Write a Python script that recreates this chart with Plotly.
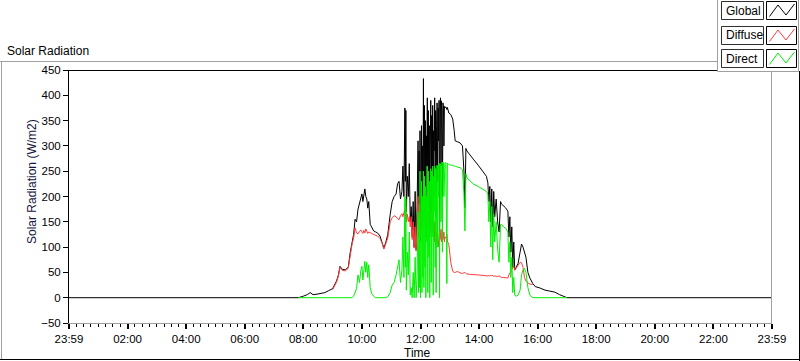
import plotly.graph_objects as go

N = None
# ---- data (minutes after midnight) ----
time_min = [0, 470, 480, 488, 494, 500, 508, 516, 524, 532,
            540, 548, 552, 555, 560, 566, 572, 576, 580, 583,
            586, 589, 592, 595, 598, 600, 602, 604, 606, 608,
            610, 612, 614, 617, 620, 624, 628, 632, 637, 641,
            645, 649, 653, 658, 662, 666, 670, 673, 676, 679,
            682, 684, 686, 688, 689, 690, 691, 693, 695, 697,
            699, 701, 703, 705, 707, 709, 711, 713, 715, 716,
            717, 718, 719, 720, 721, 722, 723, 724, 725, 726,
            727, 728, 729, 730, 731, 732, 733, 734, 735, 736,
            737, 738, 739, 740, 741, 742, 743, 744, 745, 746,
            747, 748, 749, 750, 751, 752, 753, 754, 755, 756,
            757, 758, 759, 760, 761, 762, 763, 764, 765, 766,
            767, 768, 769, 770, 772, 774, 775, 778, 782, 786,
            789, 791, 796, 801, 806, 809, 811, 813, 815, 822,
            828, 838, 848, 855, 858, 860, 862, 864, 866, 868,
            870, 872, 875, 878, 881, 884, 886, 890, 894, 899,
            901, 903, 905, 907, 909, 911, 913, 916, 920, 924,
            927, 930, 933, 936, 940, 944, 950, 955, 965, 975,
            985, 995, 1005, 1012, 1020, 1440]

global_w = [0, 0, 3, 6, 10, 6, 7, 8, 10, 14,
            18, 33, 45, 62, 56, 55, 60, 89, 110, 125,
            155, 150, 175, 185, 195, 205, 190, 210, 215, 200,
            195, 177, 190, 145, 140, 132, 130, 128, 122, 112,
            98, 110, 125, 165, 190, 200, 205, 225, 230, 195,
            210, 260, 200, 375, 230, 370, 170, 240, 200, 265,
            150, 180, 120, 190, 100, 210, 95, 180, 310, 120,
            290, 150, 330, 110, 260, 340, 140, 300, 180, 433,
            160, 380, 200, 350, 120, 320, 260, 395, 150, 370,
            220, 340, 130, 300, 390, 170, 360, 250, 380, 140,
            330, 290, 395, 200, 370, 160, 340, 385, 230, 375,
            310, 390, 120, 380, 395, 260, 389, 370, 200, 385,
            380, 300, 378, 376, 377, 372, 376, 365, 362, 353,
            330, 310, 308, 306, 300, 250, 178, 295, 290, 280,
            274, 262, 250, 240, 227, 190, 220, 150, 215, 140,
            210, 160, 195, 150, 130, 190, 185, 182, 178, 171,
            120, 160, 90, 140, 60, 110, 55, 60, 68, 90,
            106, 100, 92, 80, 50, 39, 28, 22, 19, 15,
            13, 11, 6, 3, 0, 0]

diffuse_w = [N, N, N, N, N, N, N, N, N, N,
             16, 31, 43, 60, 54, 53, 58, 86, 107, 118,
             138, 128, 126, 131, 134, 130, 127, 133, 128, 136,
             131, 127, 130, 129, 127, 125, 124, 122, 117, 109,
             96, 108, 118, 150, 158, 162, 160, 156, 154, 162,
             166, 160, 170, 175, 160, 180, 150, 165, 150, 160,
             140, 160, 115, 150, 98, 140, 92, 150, 200, 130,
             185, 140, 170, 120, 160, 190, 150, 175, 160, 210,
             150, 185, 170, 190, 130, 175, 190, 170, 140, 160,
             180, 150, 120, 165, 150, 160, 140, 170, 130, 140,
             120, 150, 110, 150, 100, 130, 115, 105, 140, 100,
             120, 120, 130, 115, 125, 135, 110, 120, 140, 115,
             125, 130, 110, 120, 118, 125, 112, 105, 70, 52,
             50, 50, 52, 49, 48, 50, 50, 48, 47, 46,
             46, 45, 44, 43, 43, 44, 43, 45, 43, 44,
             42, 43, 42, 42, 43, 41, 40, 40, 40, 39,
             45, 48, 52, 55, 58, 62, 54, 59, 66, 70,
             69, 60, 40, 33, 29, 27, 26, N, N, N,
             N, N, N, N, N, N]

direct_w = [N, 0, 0, 0, 0, 0, 0, 0, 0, 0,
            0, 0, 0, 0, 0, 0, 0, 0, 0, 3,
            12, 18, 45, 30, 55, 62, 35, 60, 72, 50,
            70, 40, 65, 20, 8, 3, 0, 0, 0, 0,
            0, 0, 2, 10, 25, 30, 45, 60, 75, 30,
            55, 120, 40, 200, 60, 195, 15, 90, 45, 130,
            5, 20, 0, 50, 0, 80, 0, 45, 170, 10,
            160, 20, 250, 0, 120, 230, 10, 200, 40, 250,
            20, 240, 60, 220, 0, 200, 110, 260, 10, 250,
            80, 230, 0, 190, 255, 30, 250, 120, 260, 5,
            240, 170, 260, 60, 255, 10, 240, 262, 100, 260,
            200, 265, 0, 265, 262, 150, 265, 268, 90, 268,
            266, 200, 265, 266, 267, 28, 266, 263, 262, 262,
            260, 260, 258, 257, 253, 205, 132, 245, 237, 230,
            225, 220, 215, 210, 205, 150, 190, 100, 180, 75,
            165, 110, 150, 95, 70, 145, 145, 140, 138, 130,
            70, 110, 40, 80, 10, 40, 5, 3, 5, 15,
            45, 55, 58, 50, 20, 5, 0, 0, 0, 0,
            0, 0, 0, 0, 0, N]

assert len(time_min) == len(global_w) == len(diffuse_w) == len(direct_w)

series_names = ["Global", "Diffuse", "Direct"]
series_colors = ["#000000", "#ff3c3c", "#00f000"]

x_tick_vals = [0, 2, 4, 6, 8, 10, 12, 14, 16, 18, 20, 22, 24]
x_tick_text = ["23:59", "02:00", "04:00", "06:00", "08:00", "10:00", "12:00",
               "14:00", "16:00", "18:00", "20:00", "22:00", "23:59"]
y_tick_vals = [-50, 0, 50, 100, 150, 200, 250, 300, 350, 400, 450]

hours = [t / 60.0 for t in time_min]

# ---- geometry (pixels) ----
W, H = 800, 361
L, R, T, B = 69, 772, 70, 323
FONT = "Liberation Sans, Arial, sans-serif"


def px(x):
    return (x - L) / (R - L)


def py(y):
    return (B - y) / (B - T)


fig = go.Figure()
for name, vals, col in zip(series_names, [global_w, diffuse_w, direct_w], series_colors):
    fig.add_trace(go.Scatter(x=hours, y=vals, mode="lines", name=name,
                             line=dict(color=col, width=1), connectgaps=False,
                             hoverinfo="skip", showlegend=False))

shapes = []


def line(x0, y0, x1, y1, color, width=1):
    shapes.append(dict(type="line", xref="paper", yref="paper",
                       x0=px(x0), y0=py(y0), x1=px(x1), y1=py(y1),
                       line=dict(color=color, width=width), layer="above"))


def rect(x0, y0, x1, y1, color, fill="white", width=1):
    shapes.append(dict(type="rect", xref="paper", yref="paper",
                       x0=px(x0), y0=py(y0), x1=px(x1), y1=py(y1),
                       line=dict(color=color, width=width), fillcolor=fill, layer="above"))


# outer frame
line(0, 61.5, 717, 61.5, "#a0a0a0")
line(1.5, 61, 1.5, 360, "#a0a0a0")
line(0, 359.5, 800, 359.5, "#000000")
line(799.5, 71, 799.5, 361, "#000000")
# plot frame top/right
line(L, 70.5, R, 70.5, "#000000")
line(R - 0.5, 70, R - 0.5, B, "#a0a0a0")

# legend
rect(717.5, -1, 798.5, 71.5, "#a0a0a0")
annotations = []
leg_tops = [1.5, 26.5, 49.5]
for name, col, top in zip(series_names, series_colors, leg_tops):
    rect(721.5, top, 763.5, top + 18, "#303030")
    rect(766.5, top, 796.5, top + 18, "#000000")
    path = "M {:.5f},{:.5f} L {:.5f},{:.5f} L {:.5f},{:.5f} L {:.5f},{:.5f}".format(
        px(769.5), py(top + 15), px(778), py(top + 3.5),
        px(786), py(top + 13.5), px(794.5), py(top + 2.5))
    shapes.append(dict(type="path", xref="paper", yref="paper", path=path,
                       line=dict(color=col, width=1), layer="above"))
    annotations.append(dict(xref="paper", yref="paper", x=px(723.5), y=py(top + 9),
                            text=name, showarrow=False, xanchor="left", yanchor="middle",
                            font=dict(family=FONT, size=12, color="#000000")))

annotations.append(dict(xref="paper", yref="paper", x=px(5), y=py(50.5),
                        text="Solar Radiation", showarrow=False, xanchor="left",
                        yanchor="middle", font=dict(family=FONT, size=12, color="#000000")))
annotations.append(dict(xref="paper", yref="paper", x=px(32), y=py(182),
                        text="Solar Radiation (W/m2)", showarrow=False, textangle=-90,
                        xanchor="center", yanchor="middle",
                        font=dict(family=FONT, size=12, color="#14143c")))
annotations.append(dict(xref="paper", yref="paper", x=px(417), y=py(353),
                        text="Time", showarrow=False, xanchor="center",
                        yanchor="middle", font=dict(family=FONT, size=12, color="#000000")))

fig.update_layout(
    width=W, height=H,
    margin=dict(l=L, r=W - R, t=T, b=H - B, pad=0),
    paper_bgcolor="white", plot_bgcolor="white",
    showlegend=False,
    shapes=shapes, annotations=annotations,
    xaxis=dict(range=[0, 24], tickmode="array", tickvals=x_tick_vals, ticktext=x_tick_text,
               showgrid=False, zeroline=False, showline=True, linecolor="#a0a0a0", linewidth=1,
               ticks="outside", ticklen=5, tickwidth=2, tickcolor="#000000",
               minor=dict(tickmode="linear", tick0=0, dtick=0.25, ticks="outside",
                          ticklen=3, tickwidth=1, tickcolor="#000000", showgrid=False),
               tickfont=dict(family=FONT, size=11.5, color="#000000"), fixedrange=True),
    yaxis=dict(range=[-50, 450], tickmode="array", tickvals=y_tick_vals,
               showgrid=False, zeroline=False, showline=True, linecolor="#000000", linewidth=1,
               ticks="outside", ticklen=5, tickwidth=1, tickcolor="#000000",
               tickfont=dict(family=FONT, size=11.5, color="#000000"), fixedrange=True),
)

fig.write_html("out.html", config={"displayModeBar": False},
               post_script="document.body.style.margin='0';document.body.style.overflow='hidden';")
